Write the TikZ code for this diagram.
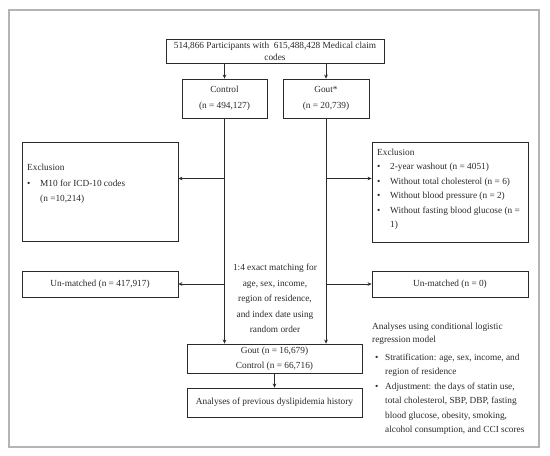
\documentclass[tikz,border=0pt]{standalone}
\usepackage{fontspec}
\setmainfont{Liberation Serif}
\usetikzlibrary{arrows.meta}
\definecolor{framegrey}{HTML}{B4B4B4}
\definecolor{ink}{HTML}{2A2A2A}
\tikzset{
  x=1pt, y=-1pt,
  every node/.style={font=\fontsize{9.3}{14.5}\selectfont, text=ink, inner sep=0pt},
  box/.style={draw=ink, line width=0.8pt, align=center},
  arr/.style={draw=ink, line width=0.8pt, -{Stealth[length=4pt,width=3.6pt]}},
  txt/.style={align=left, anchor=north west},
}
\newcommand{\bul}{\makebox[13pt][l]{\textbullet}}
\newcommand{\bulr}{\hspace*{3pt}\makebox[10pt][l]{\textbullet}}
\begin{document}
\begin{tikzpicture}
\useasboundingbox (0,0) rectangle (550,456);
\fill[white] (0,0) rectangle (550,456);
\draw[framegrey, line width=1.3pt] (9,10) rectangle (539,447);

% top
\node[box, minimum width=218, minimum height=24, font=\fontsize{9.3}{12}\selectfont] (top) at (275,51)
  {514,866 Participants with\ \ 615,488,428 Medical claim\\codes};
\node[box, minimum width=85, minimum height=39, font=\fontsize{9.3}{16}\selectfont] (ctrl) at (224.5,98.5)
  {Control\\(n = 494,127)};
\node[box, minimum width=86, minimum height=39, font=\fontsize{9.3}{16}\selectfont] (gout) at (326,98.5)
  {Gout*\\(n = 20,739)};

% exclusion boxes
\node[box, minimum width=156, minimum height=99] (exL) at (100,191.5) {};
\node[txt, font=\fontsize{9.3}{15.5}\selectfont] (exLt) at (27,164)
  {Exclusion\\\bul M10 for ICD-10 codes\\\hspace*{13pt}(n =10,214)};
\node[box, minimum width=156, minimum height=100] (exR) at (450,192) {};
\node[txt, font=\fontsize{9.3}{14.5}\selectfont] (exRt) at (377,148.5)
  {Exclusion\\\bul 2-year washout (n = 4051)\\\bul Without total cholesterol (n = 6)\\\bul Without blood pressure (n = 2)\\\bul Without fasting blood glucose (n =\\\hspace*{13pt}1)};

% un-matched
\node[box, minimum width=156, minimum height=26] (umL) at (100,284) {Un-matched (n = 417,917)};
\node[box, minimum width=156, minimum height=26] (umR) at (450,284) {Un-matched (n = 0)};

% matching text
\node[align=center, font=\fontsize{9.3}{15.5}\selectfont] (mtxt) at (275,298.5)
  {1:4 exact matching for\\age, sex, income,\\region of residence,\\and index date using\\random order};

% matched
\node[box, minimum width=175, minimum height=29, font=\fontsize{9.3}{15}\selectfont] (match) at (274.5,358.5)
  {\raisebox{-2pt}{Gout (n = 16,679)}\\\raisebox{-2pt}{Control (n = 66,716)}};
\node[box, minimum width=175, minimum height=29] (ana) at (274.5,402.5)
  {Analyses of previous dyslipidemia history};

% analysis text
\node[txt, font=\fontsize{9.3}{14.5}\selectfont] (antxt) at (372,323)
  {Analyses using conditional logistic\\[-1.5pt]regression model\\[3pt]\bulr Stratification: age, sex, income, and\\\hspace*{13pt}region of residence\\\bulr Adjustment: the days of statin use,\\\hspace*{13pt}total cholesterol, SBP, DBP, fasting\\\hspace*{13pt}blood glucose, obesity, smoking,\\\hspace*{13pt}alcohol consumption, and CCI scores};

% connectors
\coordinate (exy) at (0,178.5);
\draw[arr] (top.south -| ctrl.north) -- (ctrl.north);
\draw[arr] (top.south -| gout.north) -- (gout.north);
\draw[arr] (ctrl.south) -- (ctrl.south |- match.north);
\draw[arr] (gout.south) -- (gout.south |- match.north);
\draw[arr] (ctrl.south |- exy) -- (exL.east |- exy);
\draw[arr] (gout.south |- exy) -- (exR.west |- exy);
\draw[arr] (ctrl.south |- umL.east) -- (umL.east);
\draw[arr] (gout.south |- umR.west) -- (umR.west);
\draw[arr] (match.south) -- (ana.north);
\end{tikzpicture}
\end{document}
